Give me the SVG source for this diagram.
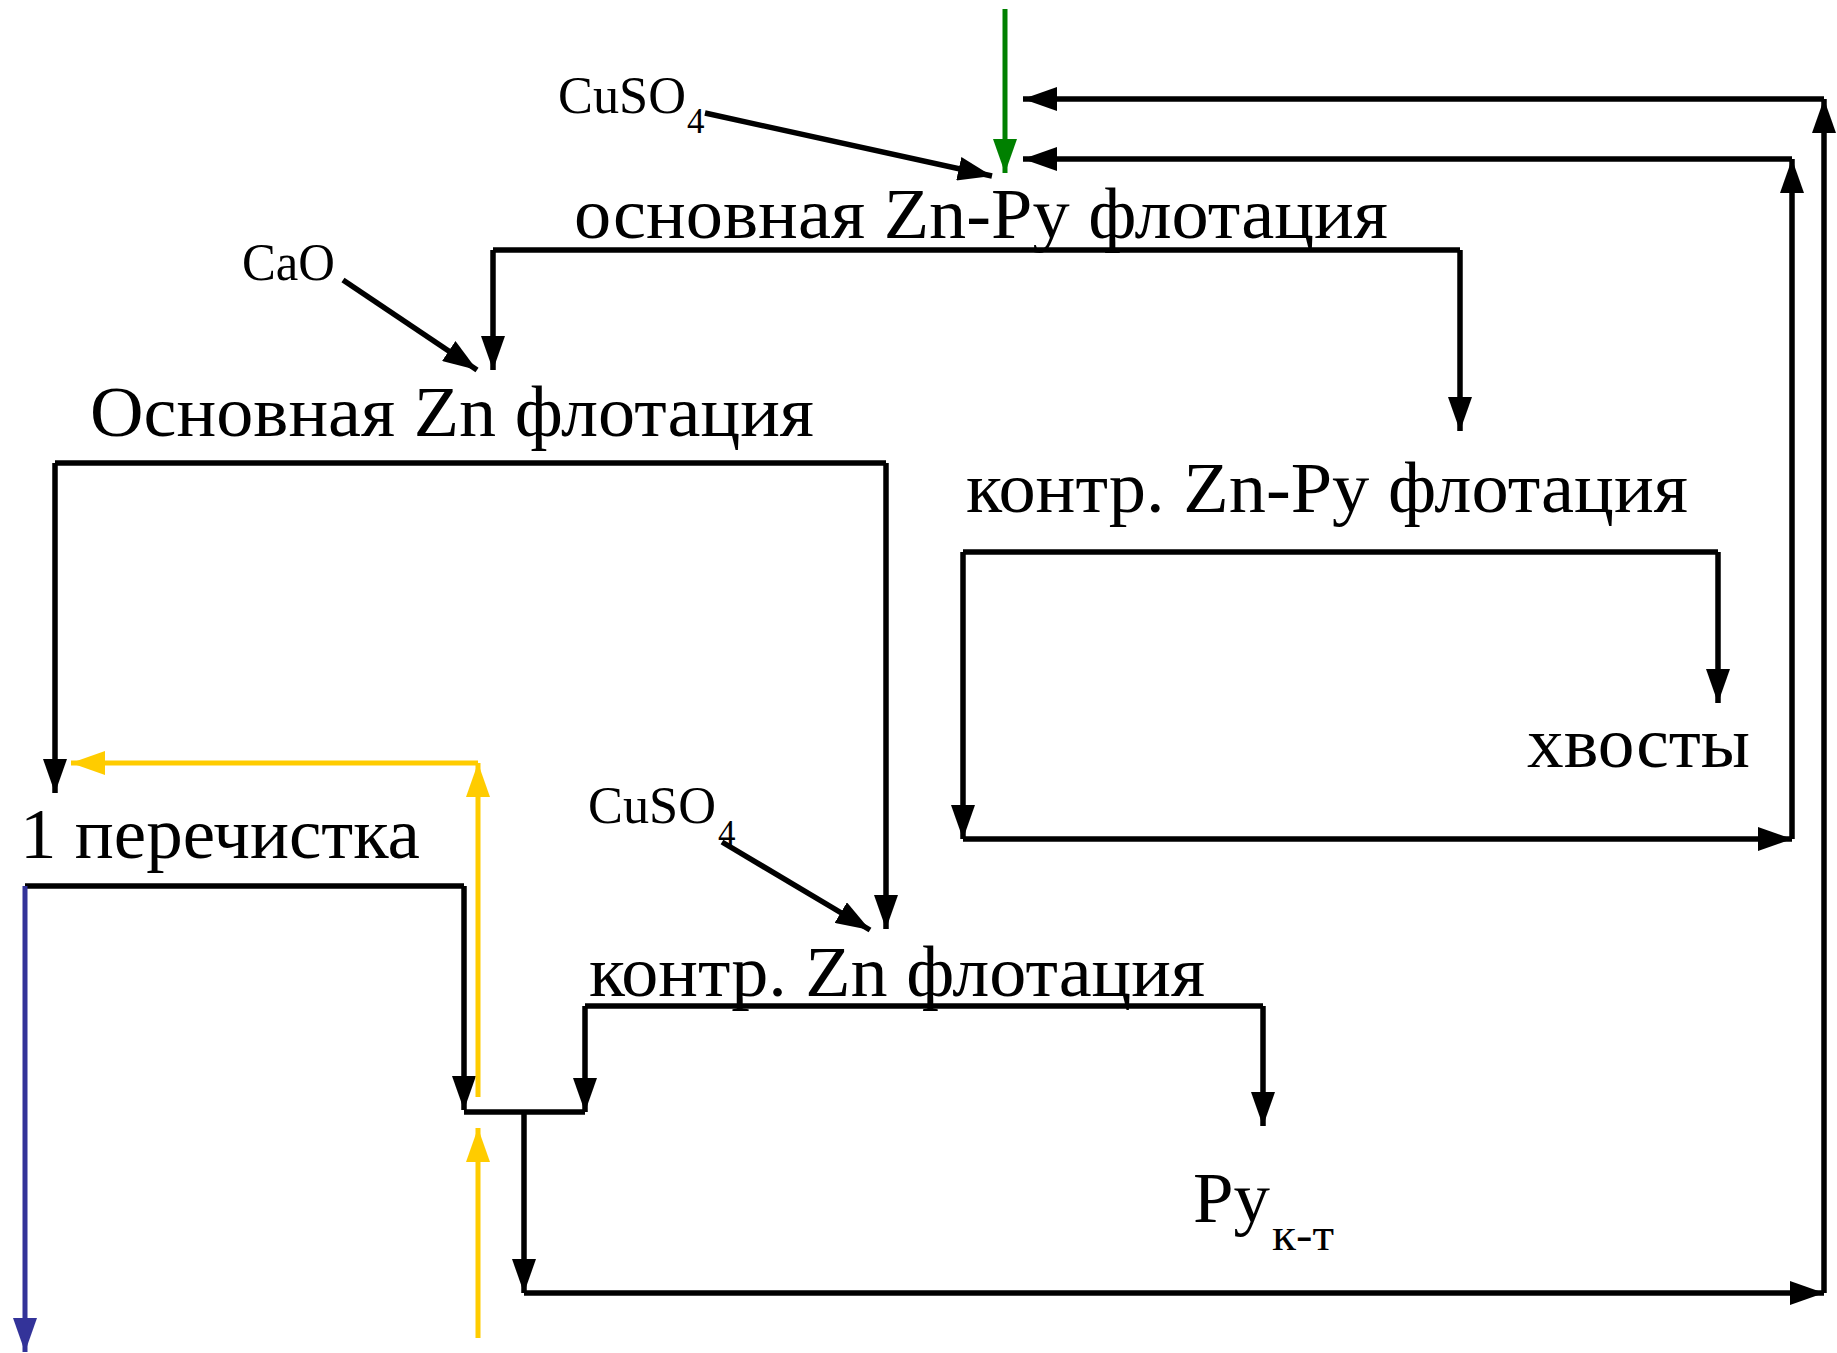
<svg xmlns="http://www.w3.org/2000/svg" width="1837" height="1353" viewBox="0 0 1837 1353">
  <style>
    text { font-family: "Liberation Serif", "Times New Roman", serif; fill: #000; }
    .big { font-size: 71px; }
    .reag { font-size: 53px; }
    .sub { font-size: 35px; }
    .subbig { font-size: 46px; }
    .ln { fill: none; stroke: #000; stroke-width: 5.5; }
    .arr { marker-end: url(#ah); }
    .green { fill: none; stroke: #008000; stroke-width: 5; marker-end: url(#ahG); }
    .yellow { fill: none; stroke: #FFCC00; stroke-width: 5; marker-end: url(#ahY); }
    .blue { fill: none; stroke: #333399; stroke-width: 5; marker-end: url(#ahB); }
  </style>
  <defs>
    <marker id="ah" markerUnits="userSpaceOnUse" viewBox="0 0 34 24" refX="34" refY="12" markerWidth="34" markerHeight="24" orient="auto">
      <path d="M0,0 L34,12 L0,24 z" fill="#000"/>
    </marker>
    <marker id="ahG" markerUnits="userSpaceOnUse" viewBox="0 0 34 24" refX="34" refY="12" markerWidth="34" markerHeight="24" orient="auto">
      <path d="M0,0 L34,12 L0,24 z" fill="#008000"/>
    </marker>
    <marker id="ahY" markerUnits="userSpaceOnUse" viewBox="0 0 34 24" refX="34" refY="12" markerWidth="34" markerHeight="24" orient="auto">
      <path d="M0,0 L34,12 L0,24 z" fill="#FFCC00"/>
    </marker>
    <marker id="ahB" markerUnits="userSpaceOnUse" viewBox="0 0 34 24" refX="34" refY="12" markerWidth="34" markerHeight="24" orient="auto">
      <path d="M0,0 L34,12 L0,24 z" fill="#333399"/>
    </marker>
  </defs>

  <rect width="1837" height="1353" fill="#fff"/>

  <!-- flow lines -->
  <g id="connectors">
    <!-- feed -->
    <line class="green" x1="1005" y1="9" x2="1005" y2="173"/>
    <!-- reagents -->
    <line class="ln arr" x1="705" y1="113" x2="992" y2="176"/>
    <line class="ln arr" x1="343" y1="280" x2="477" y2="370"/>
    <line class="ln arr" x1="722" y1="842" x2="870" y2="930"/>

    <!-- basic Zn-Py flotation split -->
    <line class="ln" x1="493" y1="250" x2="1460" y2="250"/>
    <line class="ln arr" x1="493" y1="250" x2="493" y2="370"/>
    <line class="ln arr" x1="1460" y1="250" x2="1460" y2="431"/>

    <!-- basic Zn flotation split -->
    <line class="ln" x1="55" y1="463" x2="886" y2="463"/>
    <line class="ln arr" x1="55" y1="463" x2="55" y2="793"/>
    <line class="ln arr" x1="886" y1="463" x2="886" y2="929"/>

    <!-- scavenger Zn-Py split and return loop -->
    <line class="ln" x1="963" y1="552" x2="1718" y2="552"/>
    <line class="ln arr" x1="1718" y1="552" x2="1718" y2="703"/>
    <line class="ln arr" x1="963" y1="552" x2="963" y2="839"/>
    <line class="ln arr" x1="963" y1="839" x2="1792" y2="839"/>
    <line class="ln arr" x1="1792" y1="839" x2="1792" y2="159"/>
    <line class="ln arr" x1="1792" y1="159" x2="1023" y2="159"/>

    <!-- 1st cleaning split -->
    <line class="ln" x1="25" y1="886" x2="464" y2="886"/>
    <line class="ln arr" x1="464" y1="886" x2="464" y2="1110"/>
    <line class="blue" x1="25" y1="886" x2="25" y2="1352"/>

    <!-- scavenger Zn split -->
    <line class="ln" x1="585" y1="1006" x2="1263" y2="1006"/>
    <line class="ln arr" x1="585" y1="1006" x2="585" y2="1112"/>
    <line class="ln arr" x1="1263" y1="1006" x2="1263" y2="1126"/>

    <!-- combined stream and outer return loop -->
    <line class="ln" x1="464" y1="1112" x2="585" y2="1112"/>
    <line class="ln arr" x1="524" y1="1112" x2="524" y2="1293"/>
    <line class="ln arr" x1="524" y1="1293" x2="1824" y2="1293"/>
    <line class="ln arr" x1="1824" y1="1293" x2="1824" y2="99"/>
    <line class="ln arr" x1="1824" y1="99" x2="1023" y2="99"/>

    <!-- recycle streams -->
    <line class="yellow" x1="478" y1="1097" x2="478" y2="763"/>
    <line class="yellow" x1="478" y1="763" x2="71" y2="763"/>
    <line class="yellow" x1="478" y1="1338" x2="478" y2="1128"/>
  </g>

  <g id="reagent-cuso4-top">
    <text class="reag" x="558" y="113" textLength="128" lengthAdjust="spacingAndGlyphs">CuSO</text>
    <text class="sub" x="687" y="133">4</text>
  </g>
  <g id="basic-zn-py">
    <text class="big" x="574" y="238" textLength="814" lengthAdjust="spacingAndGlyphs">основная Zn-Py флотация</text>
  </g>
  <g id="reagent-cao">
    <text class="reag" x="242" y="280" textLength="93" lengthAdjust="spacingAndGlyphs">CaO</text>
  </g>
  <g id="basic-zn">
    <text class="big" x="90" y="436" textLength="724" lengthAdjust="spacingAndGlyphs">Основная Zn флотация</text>
  </g>
  <g id="scavenger-zn-py">
    <text class="big" x="966" y="512" textLength="722" lengthAdjust="spacingAndGlyphs">контр. Zn-Py флотация</text>
  </g>
  <g id="tailings">
    <text class="big" x="1527" y="767" textLength="223" lengthAdjust="spacingAndGlyphs">хвосты</text>
  </g>
  <g id="cleaning-1">
    <text class="big" x="20" y="858" textLength="400" lengthAdjust="spacingAndGlyphs">1 перечистка</text>
  </g>
  <g id="reagent-cuso4-2">
    <text class="reag" x="588" y="823" textLength="128" lengthAdjust="spacingAndGlyphs">CuSO</text>
    <text class="sub" x="718" y="845">4</text>
  </g>
  <g id="scavenger-zn">
    <text class="big" x="589" y="996" textLength="616" lengthAdjust="spacingAndGlyphs">контр. Zn флотация</text>
  </g>
  <g id="py-concentrate">
    <text class="big" x="1193" y="1222" textLength="77" lengthAdjust="spacingAndGlyphs">Py</text>
    <text class="subbig" x="1272" y="1250" textLength="62" lengthAdjust="spacingAndGlyphs">к-т</text>
  </g>
</svg>
